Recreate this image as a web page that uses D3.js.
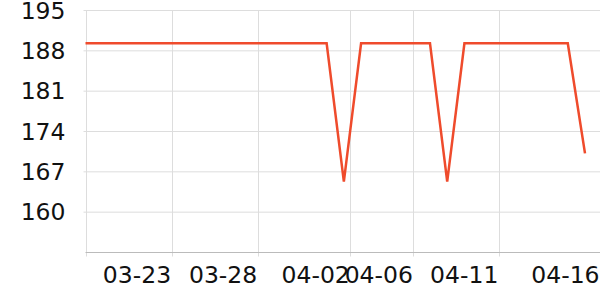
<!DOCTYPE html>
<head>
  <meta charset="utf-8">
  <script src="https://d3js.org/d3.v7.min.js"></script>
  <style>
    body { margin: 0; background: #fff; }
    text { font-family: "DejaVu Sans", sans-serif; font-size: 23.5px; fill: #111; }
  </style>
</head>
<body>
  <svg width="600" height="300"></svg>
  <script>
    // one reading per day, 03-18 .. 04-16
    const startDay = '2024-03-18';
    const values = [
      189.3, 189.3, 189.3, 189.3, 189.3, 189.3, 189.3, 189.3, 189.3, 189.3,
      189.3, 189.3, 189.3, 189.3, 189.3, 165.3, 189.3, 189.3, 189.3, 189.3,
      189.3, 165.3, 189.3, 189.3, 189.3, 189.3, 189.3, 189.3, 189.3, 170.2
    ];
    const yTicks = [160, 167, 174, 181, 188, 195];
    const xTicks = ['2024-03-23', '2024-03-28', '2024-04-02T09:00', '2024-04-06T01:00', '2024-04-11', '2024-04-16T21:00'];

    const parse = s => new Date(s.length > 10 ? s : s + 'T00:00');
    const t0 = parse(startDay);
    const data = values.map((v, i) => ({ date: d3.timeDay.offset(t0, i), value: v }));

    const svg = d3.select('svg');
    const mLeft = 85.5, mRight = 585, mTop = 10.5, mBottom = 252.5;

    const x = d3.scaleTime()
      .domain([data[0].date, data[data.length - 1].date])
      .range([mLeft, mRight]);
    const y = d3.scaleLinear().domain([153, 195]).range([mBottom, mTop]);

    // horizontal grid
    svg.append('g').selectAll('line').data(yTicks).join('line')
      .attr('x1', mLeft - 2).attr('x2', 600)
      .attr('y1', d => y(d)).attr('y2', d => y(d))
      .attr('stroke', '#ddd');

    // vertical grid
    const xTickDates = [data[0].date].concat(xTicks.map(parse));
    svg.append('g').selectAll('line').data(xTickDates).join('line')
      .attr('x1', d => Math.round(x(d)) + 0.5).attr('x2', d => Math.round(x(d)) + 0.5)
      .attr('y1', mTop).attr('y2', mBottom + 4)
      .attr('stroke', '#ddd');

    // bottom axis line
    svg.append('line')
      .attr('x1', mLeft).attr('x2', 600)
      .attr('y1', mBottom).attr('y2', mBottom)
      .attr('stroke', '#bbb');

    svg.append('g').selectAll('text').data(yTicks).join('text')
      .attr('x', 65.5).attr('y', d => y(d))
      .attr('text-anchor', 'end')
      .attr('dominant-baseline', 'central')
      .text(d => d);

    const fmt = d3.timeFormat('%m-%d');
    svg.append('g').selectAll('text').data(xTicks.map(parse)).join('text')
      .attr('x', d => x(d) - 0.5).attr('y', 283)
      .attr('text-anchor', 'end')
      .text(d => fmt(d));

    const line = d3.line().x(d => x(d.date)).y(d => y(d.value));
    svg.append('path').datum(data)
      .attr('d', line)
      .attr('fill', 'none')
      .attr('stroke', '#ef4b2c')
      .attr('stroke-width', 2.5)
      .attr('stroke-linejoin', 'miter');
  </script>
</body>
